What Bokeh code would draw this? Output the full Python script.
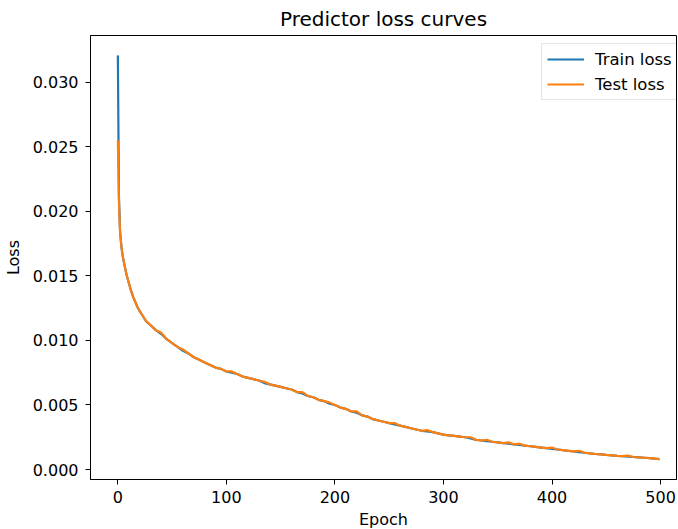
from bokeh.plotting import figure
from bokeh.models import Range1d, FixedTicker, PrintfTickFormatter
from bokeh.embed import file_html
from bokeh.resources import INLINE

epochs = [
    0, 1, 2, 3, 4, 5, 6, 7, 8, 10,
    12, 14, 16, 18, 20, 23, 26, 30, 35, 40,
    45, 50, 55, 60, 65, 70, 75, 80, 85, 90,
    95, 100, 105, 110, 115, 120, 125, 130, 135, 140,
    145, 150, 155, 160, 165, 170, 175, 180, 185, 190,
    195, 200, 205, 210, 215, 220, 225, 230, 235, 240,
    245, 250, 255, 260, 265, 270, 275, 280, 285, 290,
    295, 300, 305, 310, 315, 320, 325, 330, 335, 340,
    345, 350, 355, 360, 365, 370, 375, 380, 385, 390,
    395, 400, 405, 410, 415, 420, 425, 430, 435, 440,
    445, 450, 455, 460, 465, 470, 475, 480, 485, 490,
    495, 499]

train_loss = [
    0.0321, 0.0212, 0.0185, 0.0175, 0.0168, 0.0163, 0.0159, 0.0155, 0.0151, 0.0145,
    0.0139, 0.0134, 0.0130, 0.0126, 0.0123, 0.0119, 0.0115, 0.0112, 0.0108, 0.0105,
    0.0101, 0.0098, 0.0095, 0.0092, 0.0090, 0.0087, 0.0085, 0.0083, 0.0081, 0.0079,
    0.0078, 0.0076, 0.0075, 0.0074, 0.0072, 0.0071, 0.0070, 0.0069, 0.0067, 0.0066,
    0.0065, 0.0064, 0.0063, 0.0062, 0.0060, 0.0059, 0.0057, 0.0056, 0.0054, 0.0053,
    0.0051, 0.0050, 0.0048, 0.0047, 0.0045, 0.0044, 0.0042, 0.0041, 0.0039, 0.0038,
    0.0037, 0.0036, 0.0035, 0.0034, 0.0033, 0.0032, 0.0031, 0.0030, 0.00295, 0.0029,
    0.0028, 0.0027, 0.00265, 0.0026, 0.00255, 0.0025, 0.0024, 0.0023, 0.00225, 0.0022,
    0.00215, 0.0021, 0.00205, 0.0020, 0.00195, 0.0019, 0.00185, 0.0018, 0.00175, 0.0017,
    0.00165, 0.0016, 0.00155, 0.0015, 0.00145, 0.0014, 0.00135, 0.0013, 0.00125, 0.0012,
    0.00117, 0.00113, 0.0011, 0.00106, 0.00103, 0.0010, 0.00097, 0.00094, 0.00091, 0.00088,
    0.00084, 0.00081]

test_loss = [
    0.0255, 0.0208, 0.0185, 0.0175, 0.0168, 0.0163, 0.0159, 0.0155, 0.0151, 0.0145,
    0.0139, 0.0134, 0.0130, 0.0126, 0.0123, 0.0119, 0.0115, 0.0112, 0.0108, 0.0106,
    0.0101, 0.0098, 0.0095, 0.0093, 0.0090, 0.0087, 0.0085, 0.0083, 0.0081, 0.0079,
    0.0078, 0.0076, 0.0076, 0.0074, 0.0072, 0.0071, 0.0070, 0.0069, 0.0068, 0.0066,
    0.0065, 0.0064, 0.0063, 0.0062, 0.0060, 0.0060, 0.0057, 0.0056, 0.0054, 0.0053,
    0.0052, 0.0050, 0.0048, 0.0047, 0.0045, 0.0045, 0.0042, 0.0041, 0.0039, 0.0038,
    0.0037, 0.0036, 0.0036, 0.0034, 0.0033, 0.0032, 0.0031, 0.0030, 0.00305, 0.0029,
    0.0028, 0.0027, 0.00265, 0.0026, 0.00255, 0.0025, 0.0025, 0.0023, 0.00225, 0.0023,
    0.00215, 0.0021, 0.00205, 0.0021, 0.00195, 0.0020, 0.00185, 0.0018, 0.00175, 0.0017,
    0.00165, 0.0017, 0.00155, 0.0015, 0.00145, 0.0014, 0.00145, 0.0013, 0.00125, 0.0012,
    0.00117, 0.00113, 0.0011, 0.00106, 0.00103, 0.00108, 0.00097, 0.00094, 0.00091, 0.00088,
    0.00084, 0.00081]

x_ticks = [0, 100, 200, 300, 400, 500]
y_ticks = [0.0, 0.005, 0.010, 0.015, 0.020, 0.025, 0.030]

FONT = "DejaVu Sans"

p = figure(
    frame_width=586, frame_height=444,
    min_border_left=83, min_border_right=1, min_border_top=26, min_border_bottom=50,
    x_range=Range1d(-25.2, 514.7), y_range=Range1d(-0.000775, 0.03364),
    output_backend="svg", toolbar_location=None,
    title="Predictor loss curves",
)
p.background_fill_color = "white"
p.border_fill_color = "white"
p.outline_line_color = "black"
p.outline_line_width = 1
p.xgrid.visible = False
p.ygrid.visible = False

p.title.align = "center"
p.title.text_font = FONT
p.title.text_font_style = "normal"
p.title.text_font_size = "20px"
p.title.text_color = "black"
p.title.standoff = 9

p.line(epochs, train_loss, line_color="#1f77b4", line_width=2.2, legend_label="Train loss")
p.line(epochs, test_loss, line_color="#ff7f0e", line_width=2.2, legend_label="Test loss")

for ax in (p.xaxis[0], p.yaxis[0]):
    ax.axis_line_color = "black"
    ax.major_tick_line_color = "black"
    ax.major_tick_out = 5
    ax.major_tick_in = 0
    ax.minor_tick_line_color = None
    ax.major_label_text_font = FONT
    ax.major_label_text_font_size = "16px"
    ax.major_label_text_color = "black"
    ax.axis_label_text_font = FONT
    ax.axis_label_text_font_size = "16px"
    ax.axis_label_text_font_style = "normal"
    ax.axis_label_text_color = "black"

p.xaxis.ticker = FixedTicker(ticks=x_ticks)
p.yaxis.ticker = FixedTicker(ticks=y_ticks)
p.yaxis.formatter = PrintfTickFormatter(format="%.3f")
p.xaxis.axis_label = "Epoch"
p.yaxis.axis_label = "Loss"
p.xaxis.major_label_standoff = 6
p.yaxis.major_label_standoff = 7
p.xaxis.axis_label_standoff = 4
p.yaxis.axis_label_standoff = 7

lg = p.legend[0]
lg.location = (451, 379)
lg.label_text_font = FONT
lg.label_text_font_size = "16.5px"
lg.label_text_color = "black"
lg.glyph_width = 37
lg.glyph_height = 20
lg.label_height = 20
lg.label_standoff = 11
lg.spacing = 5
lg.padding = 5
lg.margin = 0
lg.border_line_color = "#cccccc"
lg.border_line_width = 1
lg.background_fill_color = "white"
lg.background_fill_alpha = 0.8

open("out.html", "w").write(file_html(p, INLINE))
